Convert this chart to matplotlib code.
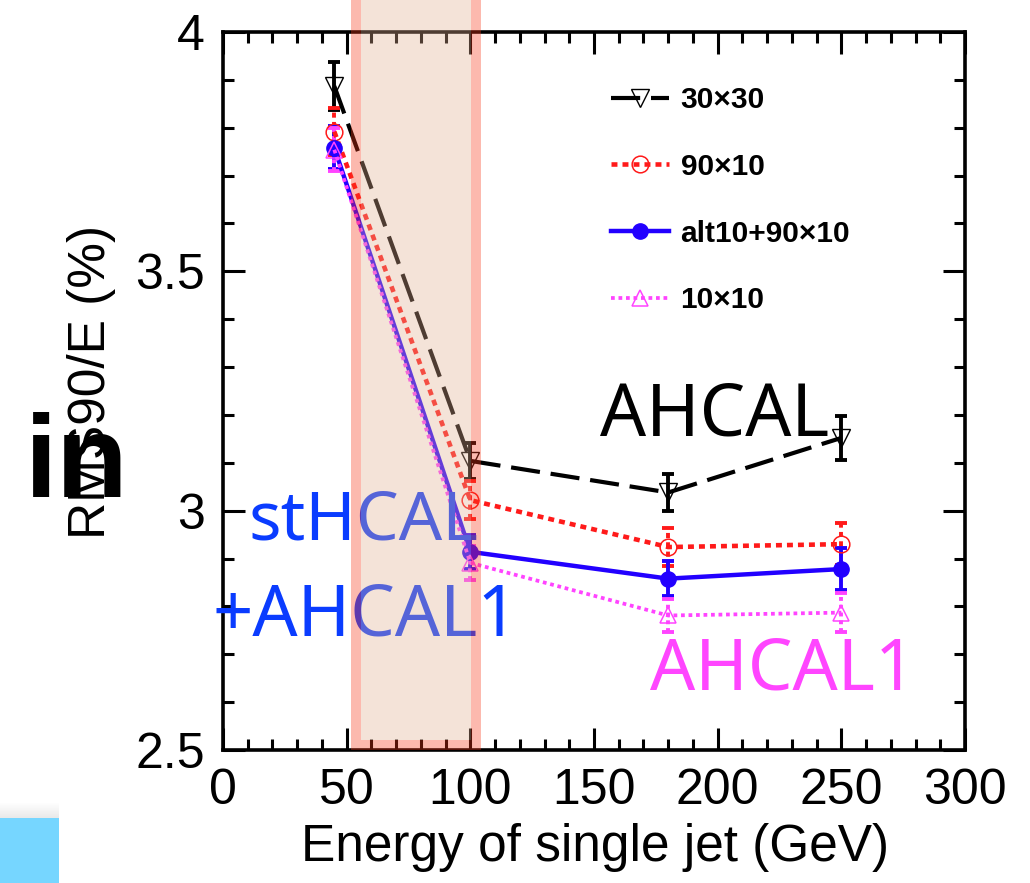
import matplotlib
matplotlib.use("Agg")
import matplotlib.pyplot as plt
from matplotlib.patches import Rectangle
from matplotlib.ticker import MultipleLocator, FuncFormatter

# ---- data -------------------------------------------------------------
energy = [45, 100, 180, 250]

rms_30x30 = [3.887, 3.104, 3.038, 3.152]
err_30x30 = [0.050, 0.038, 0.038, 0.046]

rms_90x10 = [3.792, 3.022, 2.924, 2.930]
err_90x10 = [0.050, 0.040, 0.040, 0.044]

rms_alt = [3.758, 2.914, 2.858, 2.878]
err_alt = [0.045, 0.036, 0.036, 0.044]

rms_10x10 = [3.754, 2.891, 2.781, 2.787]
err_10x10 = [0.045, 0.035, 0.035, 0.040]

series_labels = ["30×30", "90×10", "alt10+90×10", "10×10"]

x_ticks = [0, 50, 100, 150, 200, 250, 300]
y_ticks = [2.5, 3.0, 3.5, 4.0]

# ---- figure -----------------------------------------------------------
W, H = 1030, 883
fig = plt.figure(figsize=(W / 100, H / 100), dpi=100)
plt.rcParams["font.family"] = ["Liberation Sans", "DejaVu Sans"]


def fx(px):
    return px / W


def fy(py):
    return 1 - py / H


ax = fig.add_axes([fx(223), fy(750), (965 - 223) / W, (750 - 32) / H])
ax.set_xlim(0, 300)
ax.set_ylim(2.5, 4.0)

styles = [
    dict(color="black", ls=(0, (7, 2.6)), lw=3.0, marker="v", ms=13,
         mfc="none", mec="black", mew=1.0, bar_ls="solid"),
    dict(color="#ff1a1a", ls=(0, (1.3, 1.1)), lw=3.3, marker="o", ms=12,
         mfc="none", mec="#ff1a1a", mew=1.1, bar_ls=(0, (1.3, 1.1))),
    dict(color="#2200ff", ls="solid", lw=3.2, marker="o", ms=11,
         mfc="#2200ff", mec="#2200ff", mew=1.0, bar_ls="solid"),
    dict(color="#ff44ff", ls=(0, (1, 1)), lw=2.7, marker="^", ms=12,
         mfc="none", mec="#ff44ff", mew=1.1, bar_ls=(0, (1, 1))),
]
values = [rms_30x30, rms_90x10, rms_alt, rms_10x10]
errors = [err_30x30, err_90x10, err_alt, err_10x10]

handles = []
for vals, errs, st, lab in zip(values, errors, styles, series_labels):
    eb = ax.errorbar(energy, vals, yerr=errs, fmt="none", ecolor=st["color"],
                     elinewidth=2.8, capsize=4, capthick=2.8, zorder=3)
    for col in eb.lines[2]:
        col.set_linestyle(st["bar_ls"])
    line, = ax.plot(energy, vals, color=st["color"], ls=st["ls"], lw=st["lw"],
                    marker=st["marker"], ms=st["ms"], mfc=st["mfc"],
                    mec=st["mec"], mew=st["mew"], label=lab, zorder=4)
    handles.append(line)

# ---- axes styling -------------------------------------------------------
ax.xaxis.set_major_locator(MultipleLocator(50))
ax.xaxis.set_minor_locator(MultipleLocator(10))
ax.yaxis.set_major_locator(MultipleLocator(0.5))
ax.yaxis.set_minor_locator(MultipleLocator(0.1))
ax.set_xticks(x_ticks)
ax.set_yticks(y_ticks)
ax.yaxis.set_major_formatter(FuncFormatter(lambda v, p: f"{v:g}"))
ax.tick_params(which="both", direction="in", top=True, right=True,
               width=2.2, colors="black")
ax.tick_params(which="major", length=15.5, labelsize=36)
ax.tick_params(which="minor", length=8)
ax.tick_params(axis="x", which="major", pad=13)
ax.tick_params(axis="y", which="major", pad=13)
for sp in ax.spines.values():
    sp.set_linewidth(2.6)

fig.text(fx(595), fy(848), "Energy of single jet (GeV)", ha="center",
         va="center", fontsize=37)
fig.text(fx(92), fy(382), "RMS90/E (%)", rotation=90, ha="center",
         va="center", fontsize=37)

leg = ax.legend(handles, series_labels, loc="upper left",
                bbox_to_anchor=(fx(611), fy(86)), bbox_transform=fig.transFigure,
                frameon=False, borderpad=0, borderaxespad=0,
                handlelength=1.95, handletextpad=0.38, labelspacing=1.3,
                prop=dict(family="Liberation Sans", weight="bold", size=21.5))

# ---- highlighted energy range ------------------------------------------
band_outer = (51.6, 104.2)
band_inner = (55.7, 100.2)
y_lo, y_edge, y_hi = 2.5, 2.521, 4.2
edge_c, fill_c, a = "#f93718", "#e2af90", 0.35
for x0, x1, y0, y1, c in [
    (band_outer[0], band_inner[0], y_lo, y_hi, edge_c),
    (band_inner[1], band_outer[1], y_lo, y_hi, edge_c),
    (band_inner[0], band_inner[1], y_lo, y_edge, edge_c),
    (band_inner[0], band_inner[1], y_edge, y_hi, fill_c),
]:
    ax.add_patch(Rectangle((x0, y0), x1 - x0, y1 - y0, facecolor=c,
                           edgecolor="none", alpha=a, zorder=10,
                           clip_on=False))

# ---- annotations ---------------------------------------------------------
ann_font = ["Noto Sans", "DejaVu Sans"]
ax.text(fx(248), fy(540), "stHCAL", transform=fig.transFigure, ha="left",
        va="baseline", fontsize=49, color="#0a3cff", family=ann_font, zorder=5)
ax.text(fx(212), fy(635), "+AHCAL1", transform=fig.transFigure, ha="left",
        va="baseline", fontsize=51, color="#0a3cff", family=ann_font, zorder=5)
ax.text(fx(600), fy(435), "AHCAL", transform=fig.transFigure, ha="left",
        va="baseline", fontsize=52, color="black", family=ann_font, zorder=5)
ax.text(fx(650), fy(690), "AHCAL1", transform=fig.transFigure, ha="left",
        va="baseline", fontsize=51, color="#ff45ff", family=ann_font, zorder=5)

fig.text(fx(25), fy(497), "in", ha="left", va="baseline", fontsize=84,
         weight="bold", color="black", family="Liberation Sans", zorder=6)

# ---- corner tab ------------------------------------------------------------
for i in range(15):
    fig.patches.append(Rectangle((0, fy(818 - i)), fx(59), 1 / H,
                                 transform=fig.transFigure, facecolor="#888888",
                                 alpha=0.18 * (1 - i / 15), edgecolor="none"))
fig.patches.append(Rectangle((0, 0), fx(59), 65 / H, transform=fig.transFigure,
                             facecolor="#76d6ff", edgecolor="none"))

fig.savefig("out.png", dpi=100)
